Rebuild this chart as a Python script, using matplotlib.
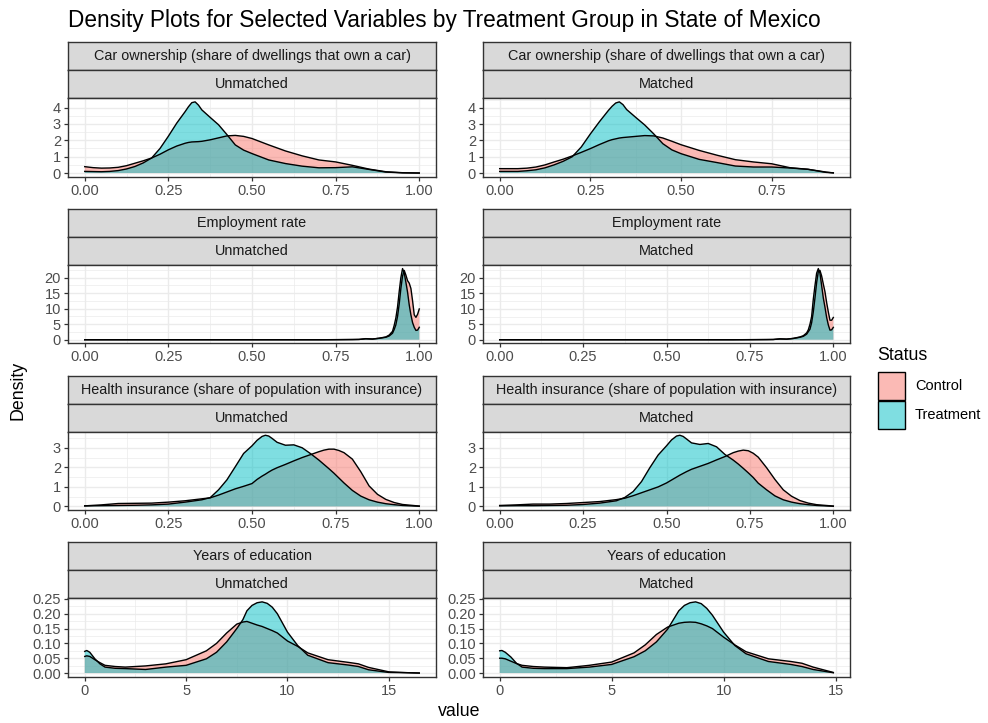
import matplotlib
matplotlib.use("Agg")
import matplotlib.pyplot as plt
import numpy as np
from matplotlib.patches import Rectangle

plt.rcParams['font.family'] = ['Liberation Sans', 'DejaVu Sans']

# ---------------------------------------------------------------- data
variables = [
    "Car ownership (share of dwellings that own a car)",
    "Employment rate",
    "Health insurance (share of population with insurance)",
    "Years of education",
]
samples = ["Unmatched", "Matched"]
groups = ["Control", "Treatment"]

# Car ownership
car_unm_x = [0, .025, .05, .075, .1, .125, .15, .175, .2, .225, .25, .275, .3, .31, .32, .33,
             .34, .35, .375, .4, .425, .45, .475, .5, .55, .6, .65, .7, .75, .8, .85, .9,
             .95, 1.0]
car_unm_control = [0.39, 0.33, 0.30, 0.31, 0.35, 0.45, 0.60, 0.75, 0.92, 1.15, 1.42, 1.65,
                   1.82, 1.87, 1.90, 1.91, 1.92, 1.94, 2.03, 2.15, 2.27, 2.30, 2.24, 2.11,
                   1.72, 1.35, 1.05, 0.80, 0.68, 0.47, 0.24, 0.08, 0.02, 0.0]
car_unm_treat = [0.10, 0.09, 0.08, 0.10, 0.15, 0.25, 0.40, 0.62, 0.92, 1.50, 2.25, 3.05,
                 3.75, 4.05, 4.30, 4.35, 4.15, 3.86, 3.40, 2.95, 2.35, 1.72, 1.40, 1.19,
                 0.80, 0.58, 0.42, 0.32, 0.33, 0.38, 0.22, 0.06, 0.01, 0.0]

car_mat_x = [0, .025, .05, .075, .1, .125, .15, .175, .2, .225, .25, .275, .3, .31, .32, .33,
             .34, .35, .375, .4, .425, .45, .475, .5, .55, .6, .65, .7, .75, .8, .85, .9, .92]
car_mat_control = [0.27, 0.27, 0.27, 0.30, 0.37, 0.50, 0.68, 0.85, 1.05, 1.27, 1.50, 1.75,
                   1.98, 2.05, 2.10, 2.15, 2.18, 2.20, 2.25, 2.30, 2.28, 2.15, 1.95, 1.74,
                   1.39, 1.09, 0.82, 0.68, 0.57, 0.33, 0.23, 0.06, 0.01]
car_mat_treat = [0.10, 0.10, 0.10, 0.14, 0.20, 0.32, 0.50, 0.72, 1.00, 1.60, 2.40, 3.15,
                 3.85, 4.10, 4.30, 4.37, 4.20, 3.90, 3.42, 2.95, 2.40, 1.80, 1.42, 1.19,
                 0.84, 0.64, 0.43, 0.37, 0.37, 0.31, 0.23, 0.04, 0.01]

# Employment rate
emp_x = [0, .1, .2, .3, .4, .5, .6, .7, .75, .8, .82, .84, .86, .88, .9, .91, .92, .925,
         .93, .935, .94, .945, .95, .955, .96, .965, .97, .975, .98, .985, .99, .995, 1.0]
emp_unm_control = [0, 0, 0, 0, 0, 0, 0, 0, 0.03, 0.08, 0.10, 0.35, 0.25, 0.45, 0.8, 1.2, 2.1,
                   3.3, 4.8, 7.5, 11.5, 16.5, 20.5, 22.3, 20.8, 19.0, 18.2, 16.5, 12.5, 8.0,
                   7.2, 8.2, 9.9]
emp_unm_treat = [0, 0, 0, 0, 0, 0, 0, 0, 0.02, 0.05, 0.10, 0.30, 0.20, 0.50, 0.9, 1.5, 2.7,
                 4.6, 7.0, 10.5, 15.5, 20.0, 22.9, 21.5, 18.5, 15.3, 11.2, 8.0, 5.5, 4.0,
                 3.0, 3.1, 4.0]
emp_mat_control = [0, 0, 0, 0, 0, 0, 0, 0, 0.03, 0.06, 0.08, 0.30, 0.20, 0.40, 0.8, 1.1, 1.8,
                   2.6, 3.4, 5.5, 9.0, 13.5, 18.5, 22.0, 22.4, 20.6, 18.0, 15.5, 12.0, 9.0,
                   6.3, 6.3, 7.2]
emp_mat_treat = [0, 0, 0, 0, 0, 0, 0, 0, 0.02, 0.05, 0.08, 0.25, 0.20, 0.45, 0.9, 1.3, 2.2,
                 3.2, 5.0, 7.5, 13.1, 17.5, 21.5, 23.0, 21.5, 17.5, 13.5, 10.5, 7.2, 4.8,
                 3.1, 3.2, 4.0]

# Health insurance
hea_x = [0, .05, .1, .15, .2, .25, .3, .35, .375, .4, .425, .45, .475, .5, .515, .53, .54,
         .55, .56, .575, .6, .625, .65, .675, .7, .715, .73, .745, .76, .775, .8, .825, .85,
         .875, .9, .925, .95, 1.0]
hea_unm_control = [0.03, 0.08, 0.15, 0.16, 0.17, 0.22, 0.29, 0.39, 0.44, 0.58, 0.74, 0.90,
                   1.03, 1.17, 1.38, 1.55, 1.65, 1.76, 1.86, 1.98, 2.15, 2.33, 2.50, 2.65,
                   2.80, 2.88, 2.93, 2.93, 2.86, 2.75, 2.42, 1.78, 1.05, 0.62, 0.36, 0.20,
                   0.10, 0.02]
hea_unm_treat = [0.03, 0.04, 0.05, 0.06, 0.08, 0.12, 0.22, 0.34, 0.45, 0.85, 1.36, 2.03,
                 2.71, 3.10, 3.38, 3.58, 3.64, 3.60, 3.48, 3.28, 3.13, 3.15, 3.00, 2.70,
                 2.37, 2.15, 1.93, 1.70, 1.45, 1.20, 0.82, 0.53, 0.34, 0.22, 0.14, 0.09,
                 0.05, 0.01]
hea_mat_control = [0.05, 0.08, 0.12, 0.12, 0.15, 0.20, 0.25, 0.35, 0.42, 0.55, 0.70, 0.85,
                   1.00, 1.20, 1.35, 1.50, 1.60, 1.69, 1.78, 1.90, 2.05, 2.20, 2.38, 2.55,
                   2.75, 2.83, 2.88, 2.85, 2.72, 2.52, 1.98, 1.38, 0.85, 0.52, 0.30, 0.17,
                   0.09, 0.02]
hea_mat_treat = [0.03, 0.04, 0.04, 0.05, 0.06, 0.10, 0.17, 0.29, 0.46, 0.76, 1.27, 1.98,
                 2.63, 3.10, 3.40, 3.60, 3.64, 3.58, 3.45, 3.25, 3.17, 3.22, 3.05, 2.66,
                 2.37, 2.17, 1.95, 1.72, 1.48, 1.19, 0.85, 0.54, 0.34, 0.22, 0.14, 0.09,
                 0.05, 0.01]

# Years of education
edu_unm_x = [0, 0.1, 0.25, 0.5, 0.75, 1, 1.5, 2, 3, 4, 5, 6, 6.5, 7, 7.5, 7.8, 8, 8.25, 8.5,
             8.75, 9, 9.25, 9.5, 10, 10.5, 11, 12, 13, 13.5, 14, 15, 16, 16.5]
edu_unm_control = [0.056, 0.058, 0.056, 0.045, 0.035, 0.026, 0.022, 0.020, 0.024, 0.031,
                   0.045, 0.075, 0.100, 0.135, 0.165, 0.172, 0.174, 0.168, 0.162, 0.157,
                   0.150, 0.143, 0.135, 0.108, 0.090, 0.068, 0.045, 0.036, 0.031, 0.019,
                   0.004, 0.001, 0.0]
edu_unm_treat = [0.073, 0.076, 0.070, 0.048, 0.031, 0.020, 0.016, 0.015, 0.012, 0.020,
                 0.026, 0.048, 0.070, 0.105, 0.150, 0.180, 0.210, 0.228, 0.237, 0.240,
                 0.235, 0.222, 0.200, 0.138, 0.093, 0.060, 0.035, 0.027, 0.022, 0.011,
                 0.002, 0.001, 0.0]

edu_mat_x = [0, 0.1, 0.25, 0.5, 0.75, 1, 1.5, 2, 3, 4, 5, 6, 6.5, 7, 7.5, 8, 8.25, 8.5, 8.75,
             9, 9.25, 9.5, 10, 10.5, 11, 12, 13, 13.5, 14, 14.9]
edu_mat_control = [0.050, 0.050, 0.048, 0.040, 0.032, 0.026, 0.022, 0.020, 0.018, 0.026,
                   0.037, 0.068, 0.095, 0.130, 0.155, 0.168, 0.171, 0.172, 0.171, 0.166,
                   0.159, 0.150, 0.121, 0.095, 0.072, 0.048, 0.039, 0.033, 0.020, 0.002]
edu_mat_treat = [0.075, 0.076, 0.070, 0.054, 0.033, 0.020, 0.016, 0.015, 0.015, 0.020,
                 0.029, 0.055, 0.075, 0.105, 0.148, 0.210, 0.228, 0.237, 0.240, 0.234,
                 0.218, 0.195, 0.138, 0.093, 0.065, 0.039, 0.029, 0.022, 0.012, 0.001]

pct_ticks = [0, 0.25, 0.5, 0.75, 1.0]
pct_labels = ["0.00", "0.25", "0.50", "0.75", "1.00"]
car_yticks = [0, 1, 2, 3, 4]
emp_yticks = [0, 5, 10, 15, 20]
hea_yticks = [0, 1, 2, 3]
edu_yticks = [0, 0.05, 0.10, 0.15, 0.20, 0.25]
edu_ylabels = ["0.00", "0.05", "0.10", "0.15", "0.20", "0.25"]
edu_xticks = [0, 5, 10, 15]

# ---------------------------------------------------------------- style
CONTROL = "#F8766D"
TREAT = "#00BFC4"
GREY20 = "#333333"
GREY30 = "#4D4D4D"
STRIP_BG = "#D9D9D9"
GRID = "#EBEBEB"

W, H = 988, 723
fig = plt.figure(figsize=(W / 100, H / 100), dpi=100)
fig.patch.set_facecolor("white")


def px_axes(x0, y0, x1, y1):
    return fig.add_axes([x0 / W, 1 - y1 / H, (x1 - x0) / W, (y1 - y0) / H])


panels = {
    (0, 0): (car_unm_x, car_unm_control, car_unm_treat),
    (0, 1): (car_mat_x, car_mat_control, car_mat_treat),
    (1, 0): (emp_x, emp_unm_control, emp_unm_treat),
    (1, 1): (emp_x, emp_mat_control, emp_mat_treat),
    (2, 0): (hea_x, hea_unm_control, hea_unm_treat),
    (2, 1): (hea_x, hea_mat_control, hea_mat_treat),
    (3, 0): (edu_unm_x, edu_unm_control, edu_unm_treat),
    (3, 1): (edu_mat_x, edu_mat_control, edu_mat_treat),
}
row_yticks = [(car_yticks, [str(v) for v in car_yticks]),
              (emp_yticks, [str(v) for v in emp_yticks]),
              (hea_yticks, [str(v) for v in hea_yticks]),
              (edu_yticks, edu_ylabels)]
row_xticks = [(pct_ticks, pct_labels)] * 3 + [(edu_xticks, [str(v) for v in edu_xticks])]

col_x = [(68, 436), (483, 850)]
row_top = [98.3, 265.0, 431.7, 598.3]
panel_h = 78.3
strip_h = 28.0


def minor_between(major, lo, hi):
    step = major[1] - major[0]
    cands = [major[0] - step / 2] + [m + step / 2 for m in major]
    return [c for c in cands if lo <= c <= hi]


for r in range(4):
    for c in range(2):
        x, yc, yt = panels[(r, c)]
        x = np.asarray(x, float)
        yc = np.asarray(yc, float)
        yt = np.asarray(yt, float)
        x0, x1 = col_x[c]
        top = row_top[r]

        # two stacked strips: variable on top, sample below
        for k, label in enumerate([variables[r], samples[c]]):
            s_top = top - strip_h * (2 - k)
            sax = px_axes(x0, s_top, x1, s_top + strip_h)
            sax.set_facecolor(STRIP_BG)
            sax.set_xticks([])
            sax.set_yticks([])
            for sp in sax.spines.values():
                sp.set_color(GREY20)
                sp.set_linewidth(1.0)
            sax.text(0.5, 0.5, label, ha="center", va="center", fontsize=10.4,
                     color="#1A1A1A", transform=sax.transAxes)

        ax = px_axes(x0, top, x1, top + panel_h)
        ax.fill_between(x, 0, yc, facecolor=CONTROL, alpha=0.5, lw=0)
        ax.plot(x, yc, color="black", lw=1.0, solid_joinstyle="round")
        ax.fill_between(x, 0, yt, facecolor=TREAT, alpha=0.5, lw=0)
        ax.plot(x, yt, color="black", lw=1.0, solid_joinstyle="round")

        xr = x.max() - x.min()
        xlo, xhi = x.min() - 0.05 * xr, x.max() + 0.05 * xr
        ymax = max(yc.max(), yt.max())
        ylo, yhi = -0.05 * ymax, 1.05 * ymax
        ax.set_xlim(xlo, xhi)
        ax.set_ylim(ylo, yhi)

        xt, xl = row_xticks[r]
        keep = [(t, l) for t, l in zip(xt, xl) if xlo <= t <= xhi]
        ax.set_xticks([t for t, _ in keep])
        ax.set_xticklabels([l for _, l in keep])
        ax.set_xticks(minor_between(xt, xlo, xhi), minor=True)
        yt_, yl_ = row_yticks[r]
        keep = [(t, l) for t, l in zip(yt_, yl_) if ylo <= t <= yhi]
        ax.set_yticks([t for t, _ in keep])
        ax.set_yticklabels([l for _, l in keep])
        ax.set_yticks(minor_between(yt_, ylo, yhi), minor=True)

        ax.grid(which="major", color=GRID, lw=1.0)
        ax.grid(which="minor", color=GRID, lw=0.5)
        ax.set_axisbelow(True)
        ax.tick_params(which="major", length=3.0, width=0.9, color=GREY20,
                       labelsize=10.5, labelcolor=GREY30, pad=2.0)
        ax.tick_params(which="minor", length=0)
        for sp in ax.spines.values():
            sp.set_color(GREY20)
            sp.set_linewidth(1.0)

# titles
fig.text(68 / W, 1 - 20 / H,
         "Density Plots for Selected Variables by Treatment Group in State of Mexico",
         ha="left", va="center", fontsize=16.3, color="black")
fig.text(459 / W, 1 - 712 / H, "value", ha="center", va="center", fontsize=12.8)
fig.text(18 / W, 1 - 390 / H, "Density", ha="center", va="center", fontsize=12.8,
         rotation=90)

# legend
fig.text(877 / W, 1 - 355 / H, "Status", ha="left", va="center", fontsize=12.8)
for i, (g, col) in enumerate(zip(groups, [CONTROL, TREAT])):
    ky = 372 + 29 * i
    box = ((878 / W, 1 - (ky + 28) / H), 27 / W, 28 / H)
    fig.patches.append(Rectangle(*box, transform=fig.transFigure, facecolor="white",
                                 edgecolor="none", zorder=1))
    fig.patches.append(Rectangle(*box, transform=fig.transFigure, facecolor=col,
                                 alpha=0.5, edgecolor="none", zorder=2))
    fig.patches.append(Rectangle(*box, transform=fig.transFigure, facecolor="none",
                                 edgecolor="black", lw=1.0, zorder=3))
    fig.text(915 / W, 1 - (ky + 14) / H, g, ha="left", va="center", fontsize=10.5)

fig.savefig("out.png", dpi=100, facecolor="white")
